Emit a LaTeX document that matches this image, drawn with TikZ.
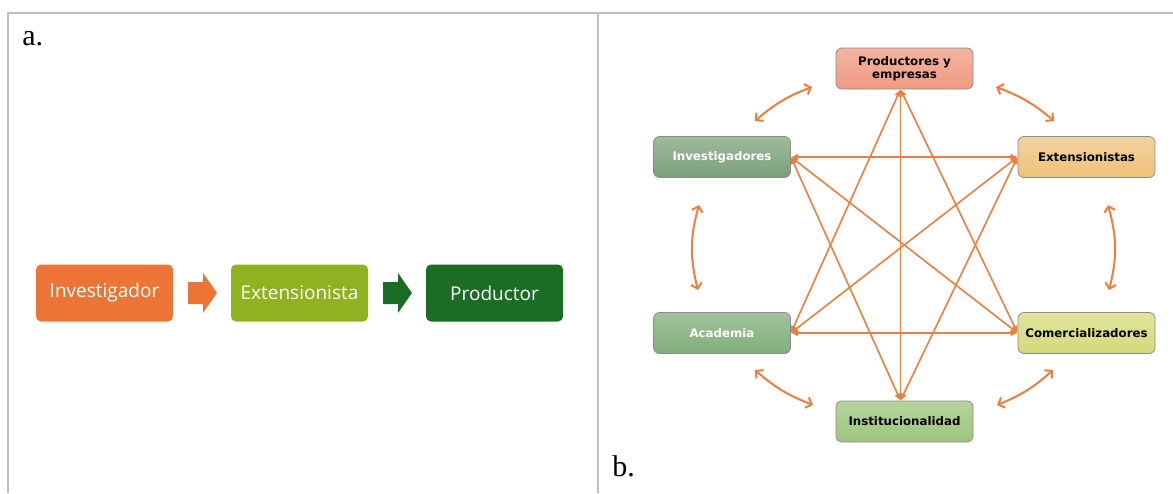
\documentclass[tikz,border=0pt]{standalone}
\usepackage{fontspec}
\setmainfont{Liberation Serif}
\newfontfamily\boxfont{Open Sans}
\newfontfamily\starfont{DejaVu Sans}
\usetikzlibrary{arrows.meta,calc}
\definecolor{frameg}{HTML}{BFBFBF}
\definecolor{invorange}{HTML}{EC7535}
\definecolor{extgreen}{HTML}{8FB320}
\definecolor{prodgreen}{HTML}{1B6D26}
\definecolor{linkor}{HTML}{EE7D3E}
\tikzset{
  flowbox/.style={rectangle, rounded corners=2.5pt, minimum width=68.5pt, minimum height=28.5pt,
    text=white, font=\boxfont\fontsize{9.5}{11}\selectfont, inner sep=0pt},
  starbox/.style={rectangle, rounded corners=3pt, minimum width=68.5pt, minimum height=20.5pt,
    draw=black!45, line width=0.4pt, shading angle=0, align=center,
    font=\starfont\bfseries\fontsize{5.9}{6.4}\selectfont, inner sep=0pt},
  link/.style={draw=linkor, line width=0.8pt, {Latex[length=3.5pt,width=3.5pt]}-{Latex[length=3.5pt,width=3.5pt]}},
  swing/.style={draw=linkor, line width=1pt, {Straight Barb[length=2.6pt,width=5.5pt]}-{Straight Barb[length=2.6pt,width=5.5pt]}},
  panellabel/.style={anchor=base west, inner sep=0pt, font=\fontsize{15}{18}\selectfont}
}
\begin{document}
\begin{tikzpicture}[x=0.5pt,y=-0.5pt]
\useasboundingbox (0,0) rectangle (1173,493);
% frame
\draw[frameg, line width=1pt] (8,493) -- (8,13) -- (1173,13);
\draw[frameg, line width=1pt] (598,13) -- (598,493);
\node[panellabel] (la) at (22,45) {a.};
\node[panellabel] (lb) at (612,476) {b.};
% panel a
\node[flowbox, fill=invorange] (inv) at (104.5,293) {Investigador};
\node[flowbox, fill=extgreen] (ext) at (299.5,293) {Extensionista};
\node[flowbox, fill=prodgreen] (prod) at (494.5,293) {Productor};
\fill[invorange] (188,282) -- (203,282) -- (203,273) -- (217,293) -- (203,313) -- (203,304) -- (188,304) -- cycle;
\fill[prodgreen] (383,282) -- (398,282) -- (398,273) -- (412,293) -- (398,313) -- (398,304) -- (383,304) -- cycle;
% panel b
\node[starbox, top color={rgb,255:red,244;green,180;blue,160}, bottom color={rgb,255:red,240;green,154;blue,128}] (P) at (904.5,68.5) {Productores y\\empresas};
\node[starbox, top color={rgb,255:red,160;green,186;blue,157}, bottom color={rgb,255:red,122;green,160;blue,120}, text=white] (I) at (722,157) {Investigadores};
\node[starbox, top color={rgb,255:red,242;green,210;blue,160}, bottom color={rgb,255:red,238;green,194;blue,120}] (E) at (1086.5,157) {Extensionistas};
\node[starbox, top color={rgb,255:red,160;green,195;blue,155}, bottom color={rgb,255:red,130;green,174;blue,124}, text=white] (A) at (722,333) {Academia};
\node[starbox, top color={rgb,255:red,223;green,228;blue,158}, bottom color={rgb,255:red,211;green,218;blue,120}] (C) at (1086.5,333) {Comercializadores};
\node[starbox, top color={rgb,255:red,182;green,213;blue,156}, bottom color={rgb,255:red,158;green,196;blue,126}] (T) at (904.5,421.5) {Institucionalidad};
\coordinate (Pa) at ([xshift=-2pt]P.south);
\coordinate (Ta) at ([xshift=-2pt]T.north);
% straight links
\draw[link] (I.east) -- (E.west);
\draw[link] (A.east) -- (C.west);
\draw[link] (Pa) -- (Ta);
\draw[link] (Pa) -- (A.east);
\draw[link] (Pa) -- (C.west);
\draw[link] (Ta) -- (I.east);
\draw[link] (Ta) -- (E.west);
\draw[link] (I.east) -- (C.west);
\draw[link] (E.west) -- (A.east);
% curved links
\coordinate (ai1) at (698,290); \coordinate (ai2) at (699,205);
\coordinate (ip1) at (755,121); \coordinate (ip2) at (812,87);
\coordinate (pe1) at (996,87);  \coordinate (pe2) at (1054,121);
\coordinate (ec1) at (1108,205); \coordinate (ec2) at (1109,290);
\coordinate (ct1) at (1053,370); \coordinate (ct2) at (997,405);
\coordinate (ta1) at (813,405); \coordinate (ta2) at (755,370);
\draw[swing] (ai1) to[bend left=15] (ai2);
\draw[swing] (ip1) to[bend left=10] (ip2);
\draw[swing] (pe1) to[bend left=10] (pe2);
\draw[swing] (ec1) to[bend left=15] (ec2);
\draw[swing] (ct1) to[bend left=10] (ct2);
\draw[swing] (ta1) to[bend left=10] (ta2);
\end{tikzpicture}
\end{document}
